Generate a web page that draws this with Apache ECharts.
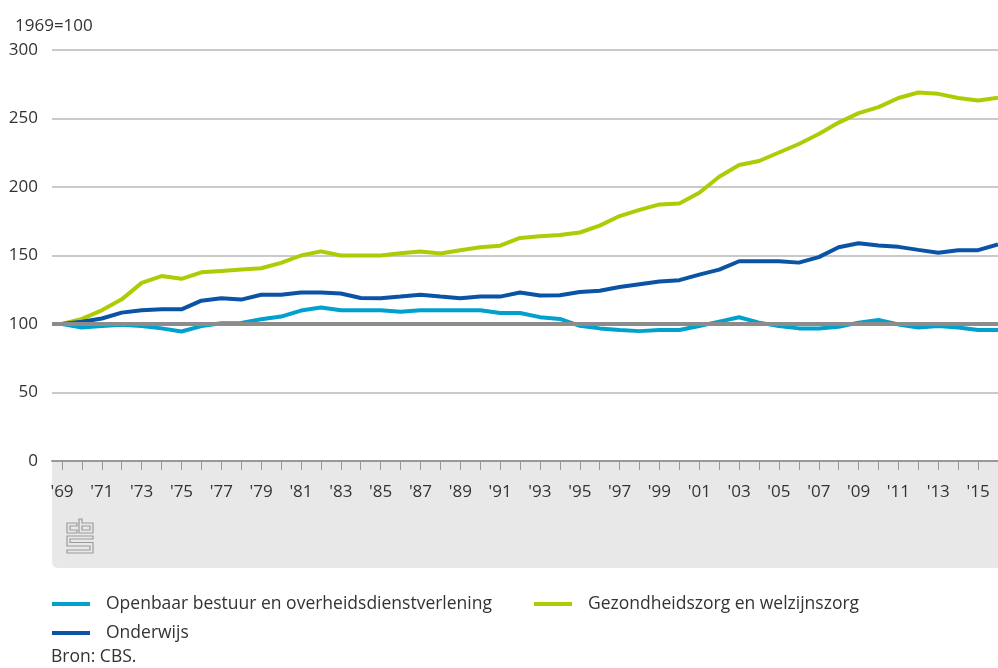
<!DOCTYPE html>
<html>
<head>
<meta charset="utf-8">
<script src="https://cdn.jsdelivr.net/npm/echarts@6/dist/echarts.min.js"></script>
<style>
  html, body { margin: 0; padding: 0; background: #fff; }
  #chart { width: 998px; height: 668px; }
</style>
</head>
<body>
<div id="chart"></div>
<script>
// jaren 1969 t/m 2016
const years = ["'69","'70","'71","'72","'73","'74","'75","'76","'77","'78",
  "'79","'80","'81","'82","'83","'84","'85","'86","'87","'88",
  "'89","'90","'91","'92","'93","'94","'95","'96","'97","'98",
  "'99","'00","'01","'02","'03","'04","'05","'06","'07","'08",
  "'09","'10","'11","'12","'13","'14","'15","'16"]

const openbaar = [100, 97.5, 98.5, 99.5, 98.5, 96.8, 94.5, 98.5, 100.5, 100.8,
  103.5, 105.4, 109.8, 112, 110, 110, 110, 109, 110, 110,
  110, 110, 108, 108, 105, 103.7, 98.7, 96.8, 95.6, 94.8,
  95.6, 95.6, 98.5, 101.7, 104.9, 101, 98.5, 96.8, 96.8, 98,
  101, 102.9, 99.7, 97.5, 98.5, 97.5, 95.6, 95.6]

const gezondheid = [100, 103.7, 110, 118, 130, 135, 133, 137.7, 138.7, 139.7,
  140.7, 144.6, 150, 153, 150, 150, 150, 151.7, 153, 151.5,
  153.9, 156, 157.2, 162.8, 164, 165, 166.8, 171.8, 178.8, 183.3,
  187.3, 188, 195.8, 207.5, 216, 219, 225.2, 231.4, 238.7, 247,
  253.9, 258.3, 265, 269, 268, 265, 263.2, 265.2]

const onderwijs = [100, 101.7, 104, 108.3, 110, 110.7, 110.7, 117, 118.8, 117.8,
  121.3, 121.3, 123, 123, 122.3, 119, 118.8, 120, 121.3, 120,
  118.8, 120, 120, 123, 120.8, 121, 123.3, 124.3, 127, 129,
  131, 132, 136, 139.7, 145.8, 145.8, 145.8, 144.8, 148.8, 156,
  159, 157.3, 156.3, 154.1, 152, 153.9, 153.9, 158]

const yTicks = { min: 0, max: 300, interval: 50 }
const baseline = 100

const font = '"Open Sans", "Noto Sans", sans-serif'
const kleuren = ['#00a1cd', '#afcb05', '#0a53a5']
const namen = ['Openbaar bestuur en overheidsdienstverlening', 'Gezondheidszorg en welzijnszorg', 'Onderwijs']

const chart = echarts.init(document.getElementById('chart'))

function legendItem(name, left, top) {
  return {
    data: [name],
    left: left,
    top: top,
    icon: 'rect',
    itemWidth: 38,
    itemHeight: 4,
    padding: 0,
    selectedMode: false,
    textStyle: { fontFamily: font, fontSize: 17.5, color: '#333', padding: [0, 0, 0, 11] }
  }
}

function lijn(i, data) {
  return {
    name: namen[i],
    type: 'line',
    xAxisIndex: 1,
    yAxisIndex: 1,
    data: data,
    symbol: 'none',
    z: 3,
    color: kleuren[i],
    lineStyle: { width: 4, color: kleuren[i] }
  }
}

const option = {
  animation: false,
  backgroundColor: '#fff',
  title: [
    { text: '1969=100', left: 10, top: 13, textStyle: { fontFamily: font, fontSize: 17, fontWeight: 'normal', color: '#333' } },
    { text: 'Bron: CBS.', left: 51, top: 648, padding: 0, textStyle: { fontFamily: font, fontSize: 17.5, fontWeight: 'normal', color: '#333' } }
  ],
  legend: [
    legendItem(namen[0], 52, 595),
    legendItem(namen[1], 534, 595),
    legendItem(namen[2], 52, 624)
  ],
  grid: [
    { left: 52, right: 0, top: 50, bottom: 207 },
    { left: 62, right: 0, top: 50, bottom: 207 }
  ],
  xAxis: [
    {
      type: 'value', gridIndex: 0, min: 0, max: 1,
      axisLine: { show: true, onZero: false, lineStyle: { color: '#999', width: 2 } },
      axisTick: { show: false }, axisLabel: { show: false }, splitLine: { show: false }
    },
    {
      type: 'category', gridIndex: 1, data: years, boundaryGap: false,
      axisLine: { show: false },
      axisTick: { show: true, interval: 0, length: 9, lineStyle: { color: '#999', width: 1 } },
      axisLabel: { interval: 1, margin: 23, fontFamily: font, fontSize: 17, color: '#333' },
      splitLine: { show: false }
    }
  ],
  yAxis: [
    {
      type: 'value', gridIndex: 0, min: yTicks.min, max: yTicks.max, interval: yTicks.interval,
      axisLine: { show: false }, axisTick: { show: false },
      axisLabel: { margin: 14, fontFamily: font, fontSize: 17, color: '#333' },
      splitLine: { show: true, lineStyle: { color: '#b8b8b8', width: 1.5 } }
    },
    {
      type: 'value', gridIndex: 1, min: yTicks.min, max: yTicks.max, interval: yTicks.interval,
      show: false, splitLine: { show: false }
    }
  ],
  graphic: [
    {
      type: 'rect', z: -10, silent: true,
      shape: { x: 52, y: 461, width: 946, height: 107, r: [0, 0, 0, 6] },
      style: { fill: '#e8e8e8' }
    },
    {
      type: 'group', silent: true, z: -5,
      children: [
        { type: 'polygon', shape: { points: [[67,523],[77,523],[77,526],[70,526],[70,530],[77,530],[77,533],[67,533]] }, style: { fill: 'none', stroke: '#9a9a9a', lineWidth: 1.2 } },
        { type: 'polygon', shape: { points: [[79,519],[82,519],[82,523],[93,523],[93,533],[79,533]] }, style: { fill: 'none', stroke: '#9a9a9a', lineWidth: 1.2 } },
        { type: 'polygon', shape: { points: [[82,526],[90,526],[90,530],[82,530]] }, style: { fill: 'none', stroke: '#9a9a9a', lineWidth: 1.2 } },
        { type: 'polygon', shape: { points: [[67,536],[93,536],[93,539],[70,539],[70,542.5],[93,542.5],[93,553],[67,553],[67,550],[90,550],[90,546],[67,546]] }, style: { fill: 'none', stroke: '#9a9a9a', lineWidth: 1.2 } }
      ]
    }
  ],
  series: [
    {
      type: 'line', xAxisIndex: 0, yAxisIndex: 0, data: [], z: 1,
      markLine: {
        silent: true, symbol: 'none', label: { show: false },
        lineStyle: { color: '#8c8c8c', width: 4, type: 'solid' },
        data: [{ yAxis: baseline }]
      }
    },
    lijn(0, openbaar),
    lijn(1, gezondheid),
    lijn(2, onderwijs)
  ]
}

chart.setOption(option)
</script>
</body>
</html>
